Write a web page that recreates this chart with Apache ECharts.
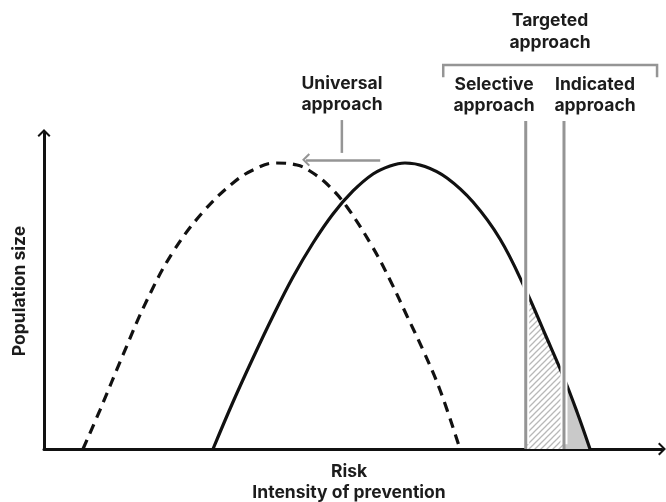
<!DOCTYPE html>
<html>
<head>
<meta charset="utf-8">
<script src="https://cdn.jsdelivr.net/npm/echarts@6/dist/echarts.min.js"></script>
<style>
html,body{margin:0;padding:0;background:#fff;}
#chart{width:666px;height:502px;}
</style>
</head>
<body>
<div id="chart"></div>
<script>
// Universal (shifted) distribution - dashed
const dashedCurve = [[6.31,0],[9.06,12.34],[12.78,29.75],[16.67,47.15],[20.87,62.34],[25.73,75.00],[30.58,84.18],[33.82,88.29],[37.38,90.51],[40.94,89.87],[43.53,87.34],[46.28,82.91],[49.03,76.58],[53.07,64.24],[55.99,53.48],[58.74,42.09],[61.33,31.33],[64.08,18.67],[67.31,0]];
// Original distribution - solid
const solidCurve = [[27.35,0],[30.58,14.87],[33.82,28.80],[37.06,42.09],[40.29,54.43],[43.53,65.19],[46.76,74.37],[50.00,81.65],[53.24,87.03],[55.99,89.56],[58.41,90.51],[61.65,89.40],[65.21,85.76],[69.42,78.16],[73.79,66.46],[77.95,50.32],[81.07,36.39],[84.14,22.47],[86.25,11.71],[88.35,0]];
// Thresholds
const selectiveX = 77.95;
const indicatedX = 84.14;
const thresholdTop = 103.8;
// Shaded regions under the solid curve
const selectiveArea = [[77.95,50.32],[81.07,36.39],[84.14,22.47]];
const indicatedArea = [[84.14,22.47],[86.25,11.71],[88.35,0]];
// Bracket for targeted approach
const bracket = [[64.6,118],[64.6,121.5],[99.2,121.5],[99.2,118]];
// Universal approach pointer
const universalStem = [[48.2,104.1],[48.2,93.7]];
const universalArrow = [[54.4,91.5],[42.4,91.5]];
// Texts
const xLabel = 'Risk\nIntensity of prevention';
const yLabel = 'Population size';
const labelTargeted = 'Targeted\napproach';
const labelSelective = 'Selective\napproach';
const labelIndicated = 'Indicated\napproach';
const labelUniversal = 'Universal\napproach';

const hatch = document.createElement('canvas');
hatch.width = 6; hatch.height = 6;
(function(){
  const c = hatch.getContext('2d');
  c.fillStyle = '#ffffff'; c.fillRect(0,0,6,6);
  c.strokeStyle = '#b8b8b8'; c.lineWidth = 1.3;
  c.beginPath();
  c.moveTo(-1,7); c.lineTo(7,-1);
  c.moveTo(-4,4); c.lineTo(4,-4);
  c.moveTo(2,10); c.lineTo(10,2);
  c.stroke();
})();

const chevron = 'path://M0,9 L9,0 L18,9 L16,11 L9,4 L2,11 Z';
const font = 'Inter, "Noto Sans", sans-serif';
const txt = (text, x, y, lh, extra) => Object.assign({
  type:'text', x:x, y:y,
  style:{text:text, fill:'#1c1c1c', fontFamily: font, fontWeight:'bold', fontSize:17.5,
         textAlign:'center', textVerticalAlign:'middle', lineHeight:lh||21}
}, extra||{});

const chart = echarts.init(document.getElementById('chart'), null, {renderer:'canvas'});
const gray = '#959595';
chart.setOption({
  animation:false,
  grid:{left:44, right:4, top:133, bottom:53},
  xAxis:{type:'value', min:0, max:100, splitLine:{show:false}, axisTick:{show:false}, axisLabel:{show:false},
    axisLine:{lineStyle:{color:'#111', width:3}, symbol:['none', chevron], symbolSize:[13,8]}},
  yAxis:{type:'value', min:0, max:100, splitLine:{show:false}, axisTick:{show:false}, axisLabel:{show:false},
    axisLine:{lineStyle:{color:'#111', width:3}, symbol:['none', chevron], symbolSize:[13,8]}},
  series:[
    {type:'line', data:selectiveArea, smooth:0.4, symbol:'none', lineStyle:{width:0}, areaStyle:{color:{image:hatch, repeat:'repeat'}, opacity:1}, z:1},
    {type:'line', data:indicatedArea, smooth:0.4, symbol:'none', lineStyle:{width:0}, areaStyle:{color:'#c9c9c9', opacity:1}, z:1},
    {type:'line', data:dashedCurve, smooth:0.4, symbol:'none', lineStyle:{color:'#111', width:3.2, type:[10,7]}, z:2},
    {type:'line', data:solidCurve, smooth:0.4, symbol:'none', lineStyle:{color:'#111', width:3.2}, z:2},
    {type:'line', data:[[selectiveX,1.5],[selectiveX,thresholdTop-2]], symbol:'none', clip:false, lineStyle:{color:'#fff', width:7}, z:3},
    {type:'line', data:[[indicatedX,1.5],[indicatedX,thresholdTop-2]], symbol:'none', clip:false, lineStyle:{color:'#fff', width:7}, z:3},
    {type:'line', data:[[selectiveX,0],[selectiveX,thresholdTop]], symbol:'none', clip:false, lineStyle:{color:gray, width:3}, z:4},
    {type:'line', data:[[indicatedX,0],[indicatedX,thresholdTop]], symbol:'none', clip:false, lineStyle:{color:gray, width:3}, z:4},
    {type:'line', data:bracket, symbol:'none', clip:false, lineStyle:{color:gray, width:2.5, cap:'square', join:'miter'}, z:4},
    {type:'line', data:universalStem, symbol:'none', clip:false, lineStyle:{color:gray, width:2.5}, z:4,
      markLine:{silent:true, symbol:['none', chevron], symbolSize:[13,8], label:{show:false},
        lineStyle:{color:gray, width:2.5, type:'solid'},
        data:[[{coord:universalArrow[0]},{coord:universalArrow[1]}]]}}
  ],
  graphic:[
    txt(labelTargeted, 550, 32, 22),
    txt(labelSelective, 494, 95),
    txt(labelIndicated, 595, 95),
    txt(labelUniversal, 342, 94),
    txt(xLabel, 349, 482),
    txt(yLabel, 20, 291, 21, {rotation:Math.PI/2})
  ]
});
</script>
</body>
</html>
